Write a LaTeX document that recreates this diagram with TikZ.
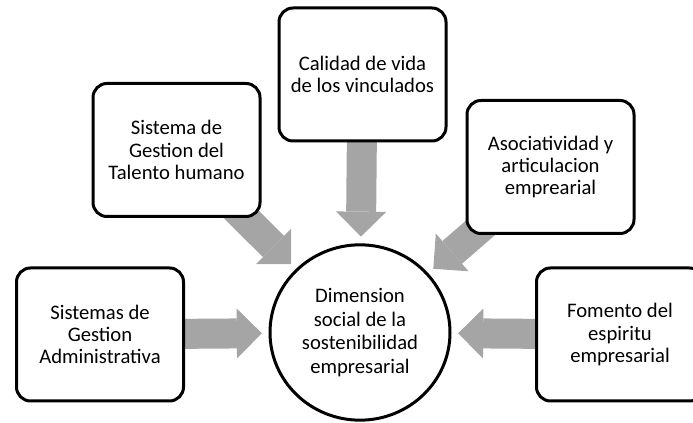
\documentclass[tikz,border=0pt]{standalone}
\usepackage{fontspec}
\setmainfont{Carlito}
\usepackage{tikz}
\usetikzlibrary{arrows.meta,shapes.geometric}
\pgfdeclarelayer{background}
\pgfsetlayers{background,main}
\definecolor{arrowgray}{RGB}{165,165,165}

\tikzset{
  stepbox/.style={draw, line width=2.25pt, rounded corners=10.5pt, fill=white,
    minimum width=125.25pt, minimum height=99.75pt, inner sep=2pt, align=center,
    font=\fontsize{15.5}{16.75}\selectfont},
  hub/.style={ellipse, draw, line width=2.25pt, fill=white,
    minimum width=135pt, minimum height=131.5pt, inner sep=0pt, align=center,
    font=\fontsize{15.5}{17.75}\selectfont},
  bigarrow/.style={draw=arrowgray, line width=22.5pt,
    -{Triangle[width=37.5pt,length=18.75pt,line width=0pt]}, shorten >=5pt}
}

\begin{document}
\begin{tikzpicture}[x=0.75pt,y=0.75pt,yscale=-1,xscale=1]
\path[use as bounding box,clip] (0,0) rectangle (693,423);

% Center node
\node[hub] (dim) at (360,332.5) {Dimension\\social de la\\sostenibilidad\\empresarial};

% Boxes
\node[stepbox] (adm) at (100,334.5) {Sistemas de\\Gestion\\Administrativa};
\node[stepbox] (tal) at (176.5,150) {Sistema de\\Gestion del\\Talento humano};
\node[stepbox] (cal) at (362.5,74.5) {Calidad de vida\\de los vinculados};
\node[stepbox] (aso) at (550.5,167) {Asociatividad y\\articulacion\\emprearial};
\node[stepbox] (fom) at (620,334.5) {Fomento del\\espiritu\\empresarial};

% Block arrows
\begin{pgfonlayer}{background}
\draw[bigarrow] (adm.center) -- (dim);
\draw[bigarrow] (tal.center) -- (dim);
\draw[bigarrow] (cal.center) -- (dim);
\draw[bigarrow] (aso.center) -- (dim);
\draw[bigarrow] (fom.center) -- (dim);
\end{pgfonlayer}

\end{tikzpicture}
\end{document}
